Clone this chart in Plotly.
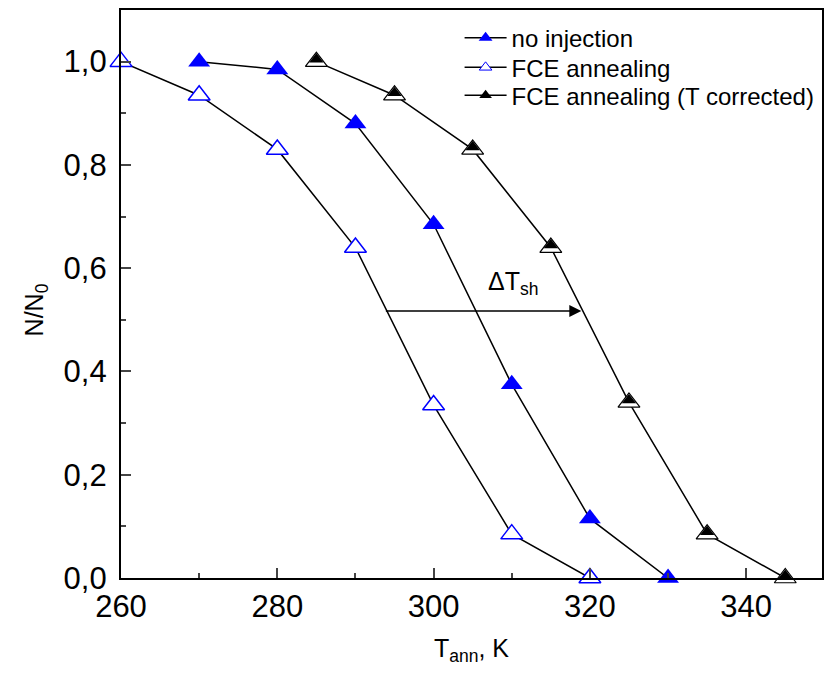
import plotly.graph_objects as go

# Data
t_no_inj = [270, 280, 290, 300, 310, 320, 330]
n_no_inj = [1.0, 0.985, 0.88, 0.685, 0.375, 0.115, 0.0]

t_fce = [260, 270, 280, 290, 300, 310, 320]
n_fce = [1.0, 0.935, 0.83, 0.64, 0.335, 0.085, 0.0]

t_corr = [285, 295, 305, 315, 325, 335, 345]
n_corr = [1.0, 0.935, 0.83, 0.64, 0.34, 0.085, 0.0]

x_ticks = [260, 280, 300, 320, 340]
y_ticks = [0.0, 0.2, 0.4, 0.6, 0.8, 1.0]

arrow_x = [293.7, 318.9]
arrow_y = 0.517

FONT = "Arial, Liberation Sans, sans-serif"
BLUE = "#0000ff"

fig = go.Figure()

# no injection
fig.add_trace(go.Scatter(
    x=t_no_inj, y=n_no_inj, mode="lines+markers", showlegend=False,
    line=dict(color="black", width=1.5),
    marker=dict(symbol="triangle-up", size=19, color=BLUE, line=dict(width=0)),
    cliponaxis=False,
))
# FCE annealing
fig.add_trace(go.Scatter(
    x=t_fce, y=n_fce, mode="lines+markers", showlegend=False,
    line=dict(color="black", width=1.5),
    marker=dict(symbol="triangle-up", size=19, color="white", line=dict(width=1.5, color=BLUE)),
    cliponaxis=False,
))
# FCE annealing (T corrected) - outer (white with black outline)
fig.add_trace(go.Scatter(
    x=t_corr, y=n_corr, mode="lines+markers", showlegend=False,
    line=dict(color="black", width=1.5),
    marker=dict(symbol="triangle-up", size=19, color="white", line=dict(width=1.2, color="black")),
    cliponaxis=False,
))
# inner black part (shifted up by overlay axis)
fig.add_trace(go.Scatter(
    x=t_corr, y=n_corr, mode="markers", showlegend=False, yaxis="y2",
    marker=dict(symbol="triangle-up", size=12.5, color="black", line=dict(width=0)),
    cliponaxis=False,
))

# legend entries (one legend per row for exact spacing)
fig.add_trace(go.Scatter(x=[None], y=[None], mode="lines+markers", name="no injection",
                         legend="legend",
                         line=dict(color="black", width=1.5),
                         marker=dict(symbol="triangle-up", size=12, color=BLUE, line=dict(width=0))))
fig.add_trace(go.Scatter(x=[None], y=[None], mode="lines+markers", name="FCE annealing",
                         legend="legend2",
                         line=dict(color="black", width=1.5),
                         marker=dict(symbol="triangle-up", size=11, color="white",
                                     line=dict(width=1, color=BLUE))))
fig.add_trace(go.Scatter(x=[None], y=[None], mode="lines+markers", name="FCE annealing (T corrected)",
                         legend="legend3",
                         line=dict(color="black", width=1.5),
                         marker=dict(symbol="triangle-up", size=11, color="black",
                                     line=dict(width=0))))

# arrow
fig.add_annotation(x=arrow_x[1], y=arrow_y, ax=arrow_x[0], ay=arrow_y,
                   xref="x", yref="y", axref="x", ayref="y",
                   showarrow=True, arrowhead=2, arrowsize=1.6, arrowwidth=1.5,
                   arrowcolor="black", text="")
fig.add_annotation(x=310.2, y=0.572, xref="x", yref="y", showarrow=False,
                   text="ΔT<sub>sh</sub>", font=dict(family=FONT, size=25, color="black"))
# y-axis title
fig.add_annotation(x=-0.122, y=0.472, xref="paper", yref="paper", showarrow=False,
                   xanchor="center", yanchor="middle",
                   textangle=-90, text="N/N<sub>0</sub>",
                   font=dict(family=FONT, size=25, color="black"))

plot_h = 678 - 10 - 100
shift = 2.3 / (plot_h / 1.1)

leg_common = dict(x=0.483, xanchor="left", yanchor="top",
                  font=dict(size=24, family=FONT), bgcolor="rgba(0,0,0,0)",
                  itemwidth=42)

fig.update_layout(
    width=824, height=678,
    margin=dict(l=121, r=0, t=10, b=100),
    paper_bgcolor="white", plot_bgcolor="white",
    separators=",.",
    font=dict(family=FONT, color="black"),
    xaxis=dict(
        range=[260, 349.7], tickvals=x_ticks, ticks="inside", ticklen=10, tickwidth=2,
        showline=True, linewidth=2.2, linecolor="black", mirror=True, showgrid=False, zeroline=False,
        tickfont=dict(size=31, family=FONT),
        minor=dict(dtick=10, tick0=260, ticks="inside", ticklen=5, tickwidth=2, showgrid=False),
        title=dict(text="T<sub>ann</sub>, K", font=dict(size=25, family=FONT), standoff=16),
    ),
    yaxis=dict(
        range=[0, 1.1], tickvals=y_ticks, tickformat=".1f", ticks="inside", ticklen=10, tickwidth=2,
        showline=True, linewidth=2.2, linecolor="black", mirror=True, showgrid=False, zeroline=False,
        tickfont=dict(size=31, family=FONT), ticklabelstandoff=6,
        minor=dict(dtick=0.1, tick0=0, ticks="inside", ticklen=5, tickwidth=2, showgrid=False),
    ),
    yaxis2=dict(overlaying="y", range=[-shift, 1.1 - shift], visible=False),
    legend=dict(y=0.99, **leg_common),
    legend2=dict(y=0.938, **leg_common),
    legend3=dict(y=0.889, **leg_common),
)

fig.write_html("out.html")
